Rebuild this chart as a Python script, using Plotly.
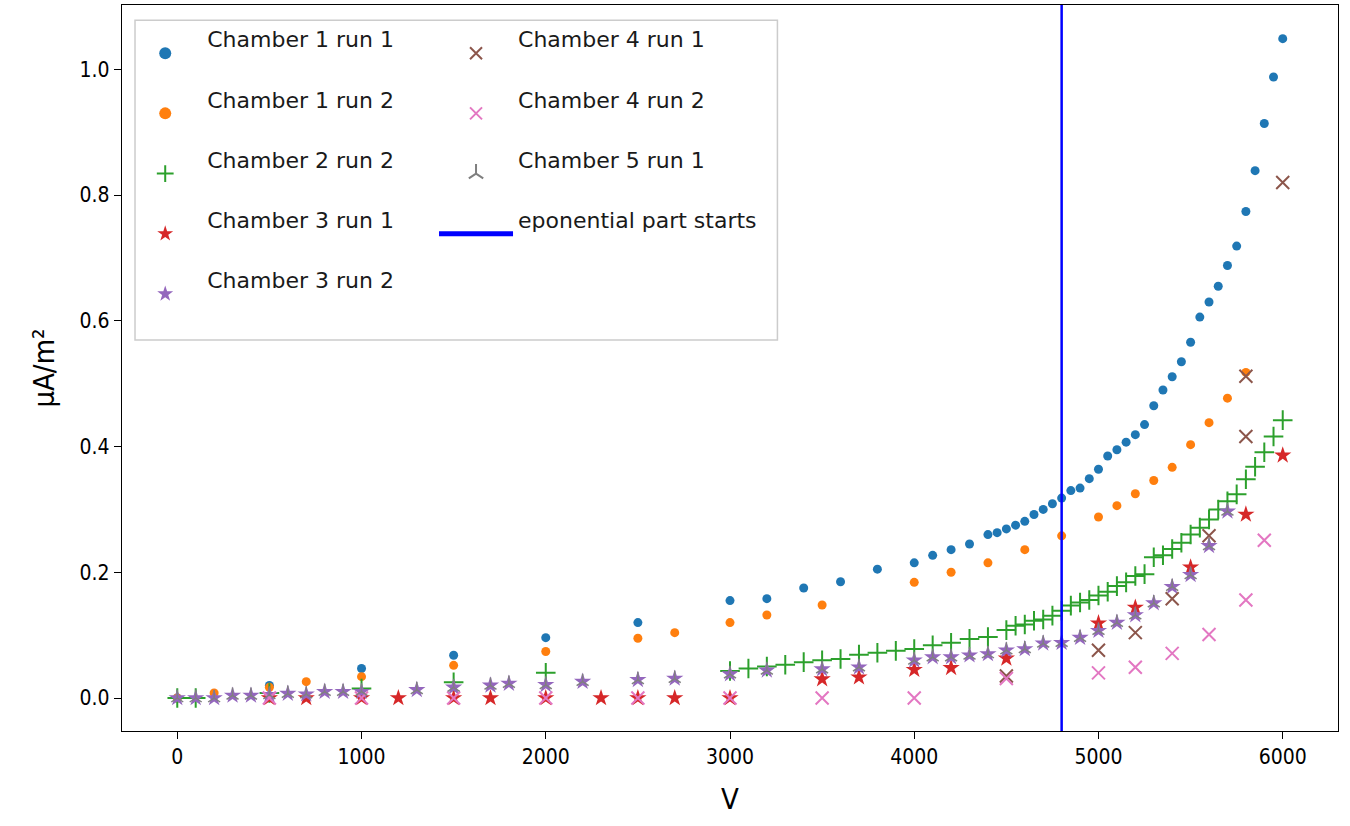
import plotly.graph_objects as go

# ---------------- data ----------------
c1r1_v = [0, 500, 1000, 1500, 2000, 2500, 3000, 3200, 3400, 3600, 3800, 4000, 4100, 4200, 4300,
          4400, 4450, 4500, 4550, 4600, 4650, 4700, 4750, 4800, 4850, 4900, 4950, 5000, 5050,
          5100, 5150, 5200, 5250, 5300, 5350, 5400, 5450, 5500, 5550, 5600, 5650, 5700, 5750,
          5800, 5850, 5900, 5950, 6000]
c1r1_i = [0.0, 0.020, 0.047, 0.068, 0.096, 0.120, 0.155, 0.158, 0.175, 0.185, 0.205, 0.215, 0.227,
          0.236, 0.245, 0.260, 0.263, 0.269, 0.275, 0.281, 0.292, 0.300, 0.309, 0.318, 0.330,
          0.334, 0.349, 0.364, 0.385, 0.395, 0.407, 0.419, 0.435, 0.465, 0.490, 0.511, 0.535,
          0.566, 0.606, 0.630, 0.655, 0.688, 0.719, 0.774, 0.839, 0.914, 0.988, 1.049]

c1r2_v = [0, 200, 500, 700, 1000, 1500, 2000, 2500, 2700, 3000, 3200, 3500, 4000, 4200, 4400,
          4600, 4800, 5000, 5100, 5200, 5300, 5400, 5500, 5600, 5700, 5800]
c1r2_i = [0.0, 0.008, 0.017, 0.026, 0.034, 0.052, 0.074, 0.095, 0.104, 0.120, 0.132, 0.148, 0.184,
          0.200, 0.215, 0.236, 0.258, 0.288, 0.306, 0.325, 0.346, 0.367, 0.403, 0.438, 0.477, 0.518]

c2r2_v = [0, 100, 500, 1000, 1500, 2000, 3000, 3100, 3200, 3300, 3400, 3500, 3600, 3700, 3800,
          3900, 4000, 4100, 4200, 4300, 4400, 4500, 4550, 4600, 4650, 4700, 4750, 4800, 4850,
          4900, 4950, 5000, 5050, 5100, 5150, 5200, 5250, 5300, 5350, 5400, 5450, 5500, 5550,
          5600, 5650, 5700, 5750, 5800, 5850, 5900, 5950, 6000]
c2r2_i = [0.0, 0.0, 0.008, 0.015, 0.025, 0.040, 0.043, 0.047, 0.050, 0.053, 0.057, 0.060, 0.062,
          0.069, 0.072, 0.075, 0.078, 0.084, 0.088, 0.094, 0.097, 0.108, 0.115, 0.117, 0.123,
          0.125, 0.131, 0.139, 0.147, 0.152, 0.156, 0.163, 0.169, 0.178, 0.184, 0.194, 0.197,
          0.224, 0.227, 0.237, 0.247, 0.260, 0.271, 0.284, 0.300, 0.313, 0.324, 0.348, 0.368,
          0.391, 0.416, 0.442]

c3r1_v = [500, 700, 1000, 1200, 1500, 1700, 2000, 2300, 2500, 2700, 3000, 3500, 3700, 4000, 4200,
          4500, 5000, 5200, 5500, 5800, 6000]
c3r1_i = [0.0, 0.0, 0.0, 0.0, 0.0, 0.0, 0.0, 0.0, 0.0, 0.0, 0.0, 0.030, 0.033, 0.045, 0.048,
          0.063, 0.119, 0.144, 0.208, 0.292, 0.386]

c3r2_v = [0, 100, 200, 300, 400, 500, 600, 700, 800, 900, 1000, 1300, 1500, 1700, 1800, 2000,
          2200, 2500, 2700, 3000, 3200, 3500, 3700, 4000, 4100, 4200, 4300, 4400, 4500, 4600,
          4700, 4800, 4900, 5000, 5100, 5200, 5300, 5400, 5500, 5600, 5700]
c3r2_i = [0.0, 0.0, 0.0, 0.004, 0.004, 0.005, 0.007, 0.006, 0.010, 0.010, 0.010, 0.013, 0.017,
          0.020, 0.023, 0.021, 0.026, 0.029, 0.031, 0.038, 0.044, 0.046, 0.049, 0.060, 0.065,
          0.065, 0.068, 0.070, 0.076, 0.078, 0.087, 0.088, 0.096, 0.107, 0.120, 0.132, 0.151,
          0.177, 0.196, 0.242, 0.297]

c4r1_v = [4500, 5000, 5200, 5400, 5600, 5800, 5800, 6000]
c4r1_i = [0.035, 0.076, 0.104, 0.158, 0.258, 0.416, 0.512, 0.820]

c4r2_v = [500, 1000, 1500, 2000, 2500, 3000, 3500, 4000, 4500, 5000, 5200, 5400, 5600, 5800, 5900]
c4r2_i = [0.0, 0.0, 0.0, 0.0, 0.0, 0.0, 0.0, 0.0, 0.031, 0.040, 0.049, 0.071, 0.101, 0.156, 0.251]

c5r1_v = [0, 100, 200, 300, 400, 500, 600, 700, 800, 900, 1000, 1300, 1500, 1700, 1800, 2000,
          2200, 2500, 2700, 3000, 3200, 3500, 3700, 4000, 4100, 4200, 4300, 4400, 4500, 4600,
          4700, 4800, 4900, 5000, 5100, 5200, 5300, 5400, 5500, 5600, 5700]
c5r1_i = [0.0, 0.0, 0.0, 0.004, 0.004, 0.005, 0.007, 0.006, 0.010, 0.010, 0.010, 0.013, 0.017,
          0.020, 0.023, 0.021, 0.026, 0.029, 0.031, 0.038, 0.044, 0.046, 0.049, 0.060, 0.065,
          0.065, 0.068, 0.070, 0.076, 0.078, 0.087, 0.088, 0.096, 0.107, 0.120, 0.132, 0.151,
          0.177, 0.196, 0.242, 0.297]

exp_start_v = 4800

x_ticks = [0, 1000, 2000, 3000, 4000, 5000, 6000]
y_ticks = [0.0, 0.2, 0.4, 0.6, 0.8, 1.0]

# ---------------- figure ----------------
FONT = "DejaVu Sans Condensed, Liberation Sans Narrow, DejaVu Sans, sans-serif"
LEGFONT = "DejaVu Sans, sans-serif"
fig = go.Figure()

series = [
    ("Chamber 1 run 1", c1r1_v, c1r1_i, "circle", "#1f77b4", 9, 0, "legend"),
    ("Chamber 1 run 2", c1r2_v, c1r2_i, "circle", "#ff7f0e", 9, 0, "legend"),
    ("Chamber 2 run 2", c2r2_v, c2r2_i, "cross-thin", "#2ca02c", 14, 2, "legend"),
    ("Chamber 3 run 1", c3r1_v, c3r1_i, "star", "#d62728", 13, 0, "legend"),
    ("Chamber 3 run 2", c3r2_v, c3r2_i, "star", "#9467bd", 13, 0, "legend"),
    ("Chamber 4 run 1", c4r1_v, c4r1_i, "x-thin", "#8c564b", 13, 2, "legend2"),
    ("Chamber 4 run 2", c4r2_v, c4r2_i, "x-thin", "#e377c2", 13, 2, "legend2"),
    ("Chamber 5 run 1", c5r1_v, c5r1_i, "y-up", "#7f7f7f", 10, 1.5, "legend2"),
]
for name, xs, ys, sym, col, size, lw, leg in series:
    fig.add_trace(go.Scatter(
        x=xs, y=ys, mode="markers", name=name + "<br> ", legend=leg,
        marker=dict(symbol=sym, color=col, size=size,
                    line=dict(color=col, width=lw)),
    ))

fig.add_trace(go.Scatter(
    x=[None], y=[None], mode="lines", name="eponential part starts<br> ", legend="legend2",
    line=dict(color="#0000ff", width=2.5),
))
fig.add_vline(x=exp_start_v, line=dict(color="#0000ff", width=2.5), layer="above")

# legend frame
fig.add_shape(type="rect", xref="paper", yref="paper", x0=0.0107, x1=0.539, y0=0.5386, y1=0.979,
              line=dict(color="#cccccc", width=1.5), fillcolor="rgba(255,255,255,0.8)", layer="above")

legend_common = dict(
    bgcolor="rgba(0,0,0,0)", borderwidth=0, font=dict(family=LEGFONT, size=22, color="#1a1a1a"),
    xanchor="left", yanchor="top", valign="middle", itemsizing="constant", itemwidth=74,
)
fig.update_layout(
    width=1350, height=826,
    margin=dict(l=122, r=12, t=5, b=95),
    paper_bgcolor="white", plot_bgcolor="white",
    font=dict(family=FONT, color="black"),
    legend=dict(x=0.001, y=0.982, **legend_common),
    legend2=dict(x=0.2566, y=0.982, **legend_common),
    xaxis=dict(
        range=[-300, 6300], tickvals=x_ticks, ticktext=[str(t) for t in x_ticks],
        showline=True, mirror=True, linecolor="black", linewidth=1.3,
        ticks="outside", ticklen=7, tickwidth=1.3, tickcolor="black",
        showgrid=False, zeroline=False, tickfont=dict(family=FONT, size=21),
        title=dict(text="V", font=dict(family=FONT, size=29), standoff=20),
    ),
    yaxis=dict(
        range=[-0.0525, 1.1025], tickvals=y_ticks, ticktext=[f"{t:.1f}" for t in y_ticks],
        showline=True, mirror=True, linecolor="black", linewidth=1.3,
        ticks="outside", ticklen=7, tickwidth=1.3, tickcolor="black",
        showgrid=False, zeroline=False, tickfont=dict(family=FONT, size=21),
        title=dict(text="μA/m²", font=dict(family=FONT, size=29), standoff=16),
    ),
)

fig.write_html("out.html")
